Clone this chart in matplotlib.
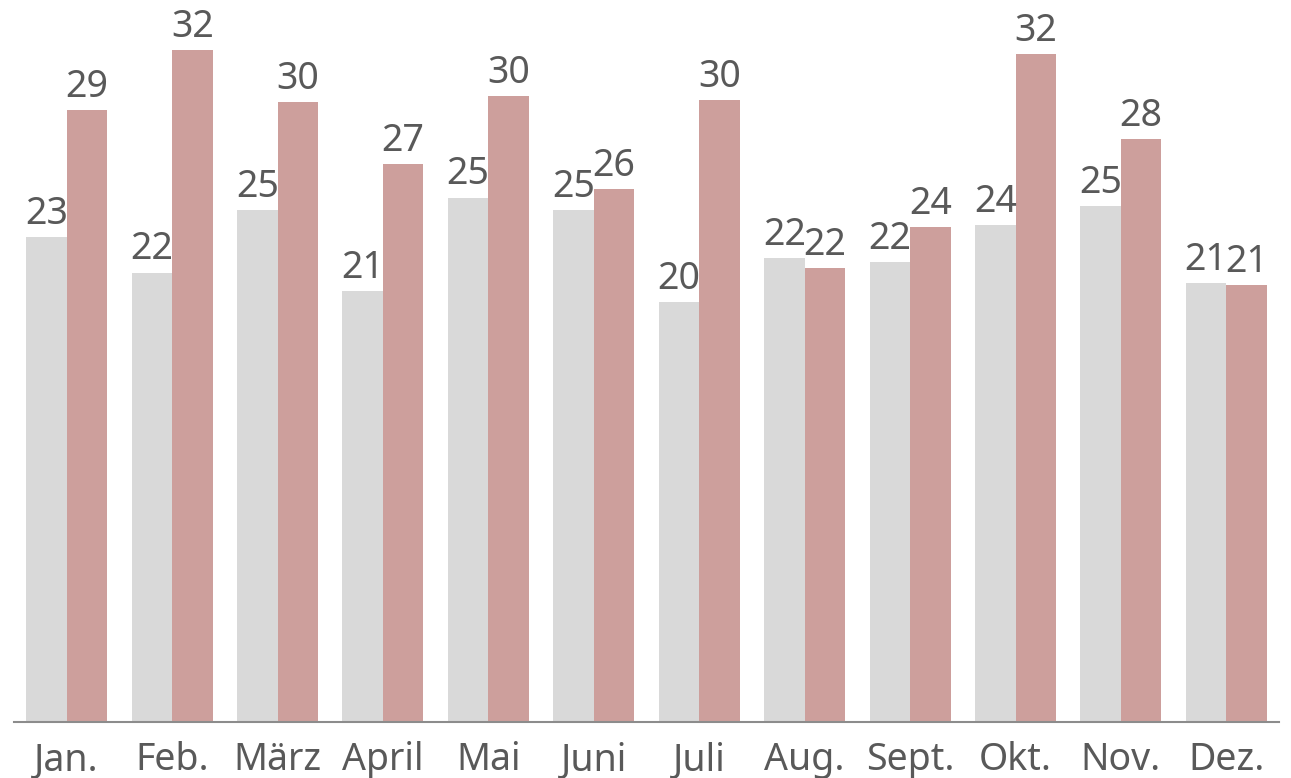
import numpy as np
import matplotlib.pyplot as plt

# Monthly values (labels shown rounded)
months = ["Jan.", "Feb.", "März", "April", "Mai", "Juni",
          "Juli", "Aug.", "Sept.", "Okt.", "Nov.", "Dez."]
series_grey = [23.3, 21.6, 24.6, 20.7, 25.2, 24.6, 20.2, 22.3, 22.1, 23.9, 24.8, 21.1]
series_rose = [29.4, 32.3, 29.8, 26.8, 30.1, 25.6, 29.9, 21.8, 23.8, 32.1, 28.0, 21.0]

text_color = "#595959"
plt.rcParams['font.family'] = ['Noto Sans', 'DejaVu Sans']

fig = plt.figure(figsize=(12.91, 7.78), dpi=100)
ax = fig.add_axes([0.0108, 0.072, 0.98, 0.928])

x = np.arange(len(months))
w = 0.384
bars_g = ax.bar(x - w/2, series_grey, width=w, color="#D9D9D9")
bars_r = ax.bar(x + w/2, series_rose, width=w, color="#CD9F9C")

for bars in (bars_g, bars_r):
    for b in bars:
        h = b.get_height()
        ax.annotate(f"{h:.0f}", (b.get_x() + b.get_width()/2, h),
                    xytext=(0, 3), textcoords="offset points",
                    ha="center", va="bottom", fontsize=27, color=text_color)

ax.set_xlim(-0.5, 11.5)
ax.set_ylim(0, 34.7)
ax.set_xticks(x)
ax.set_xticklabels(months, fontsize=27, color=text_color)
ax.tick_params(axis="x", length=0, pad=14)
ax.set_yticks([])
for s in ["top", "right", "left"]:
    ax.spines[s].set_visible(False)
ax.spines["bottom"].set_color("#8C8C8C")
ax.spines["bottom"].set_linewidth(1.5)

fig.savefig("out.png", dpi=100)
